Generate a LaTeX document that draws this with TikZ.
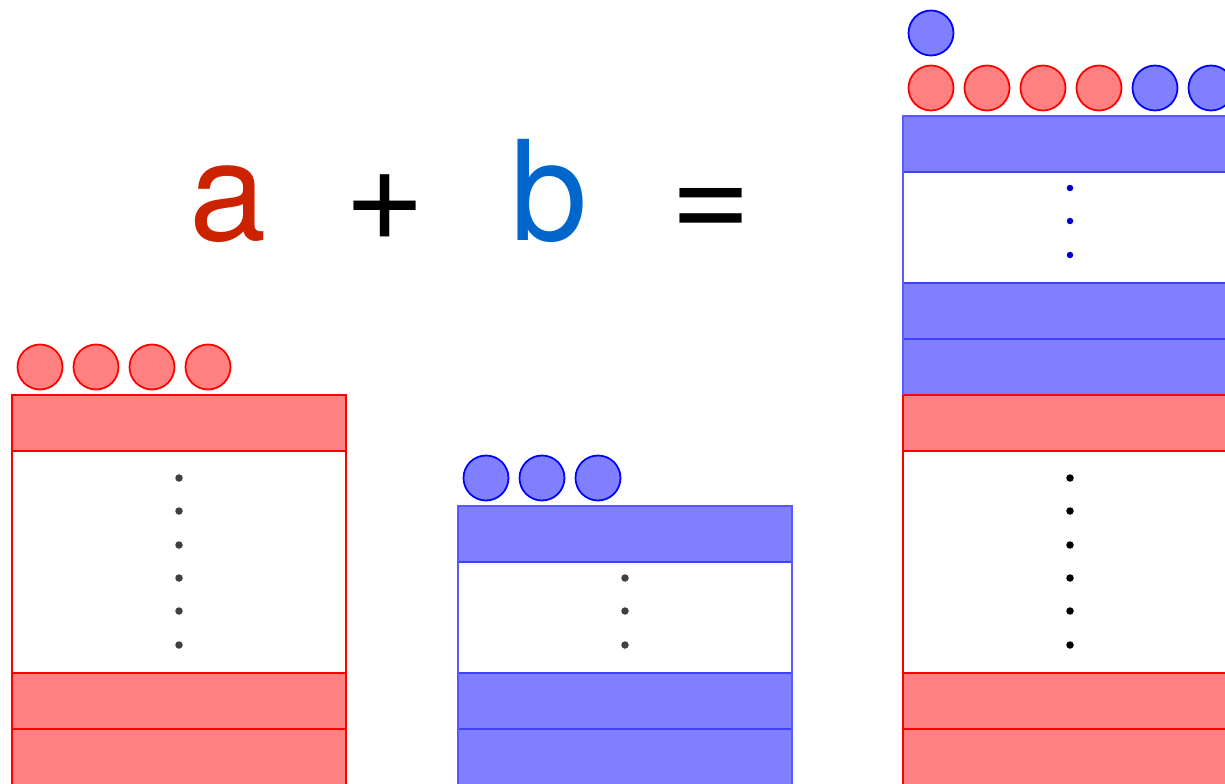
\documentclass[tikz,border=0pt]{standalone}
\usepackage{fontspec}
\setmainfont{TeX Gyre Heros}
\usepackage{tikz}
\definecolor{termred}{HTML}{CC2200}
\definecolor{termblue}{HTML}{0066CC}
\tikzset{
  redband/.style = {fill=red!50, draw=red, line width=0.6pt},
  blueband/.style = {fill=blue!50, draw=blue!75, line width=0.6pt},
  redframe/.style = {draw=red, line width=1.1pt},
  blueframe/.style = {draw=blue!65, line width=1.1pt},
  redbead/.style = {fill=red!50, draw=red, line width=1pt},
  bluebead/.style = {fill=blue!50, draw=blue, line width=1pt},
  term/.style = {anchor=base, font=\fontsize{79}{90}\selectfont},
}
\begin{document}
\begin{tikzpicture}[x=0.02cm,y=-0.02cm]
\useasboundingbox (0,0) rectangle (1225,784);
\clip (0,0) rectangle (1225,784);
% the sum
\node[term, text=termred] (a) at (228,240) {a};
\node[term] (plus) at (385,240) {+};
\node[term, text=termblue] (b) at (549,240) {b};
\node[term] (eq) at (711,240) {=};
% stack a
\foreach \t/\u in {395/451,673/729,729/790}
  \draw[redband] (12,\t) rectangle (346,\u);
\draw[redframe] (12,395) rectangle (346,790);
\foreach \y in {478,511,545,578,611,645}
  \fill[black!75] (179,\y) circle[radius=0.075cm];
\foreach \x in {40,96,152,208}
  \draw[redbead] (\x,367) circle[radius=0.45cm];
% stack b
\foreach \t/\u in {506/562,673/729,729/790}
  \draw[blueband] (458,\t) rectangle (792,\u);
\draw[blueframe] (458,506) rectangle (792,790);
\foreach \y in {578,611,645}
  \fill[black!75] (625,\y) circle[radius=0.075cm];
\foreach \x in {486,542,598}
  \draw[bluebead] (\x,478) circle[radius=0.45cm];
% stack a+b
\foreach \t/\u in {116/172,283/339,339/395}
  \draw[blueband] (903,\t) rectangle (1240,\u);
\foreach \t/\u in {395/451,673/729,729/790}
  \draw[redband] (903,\t) rectangle (1240,\u);
\draw[blueframe] (903,395) -- (903,116) -- (1240,116);
\draw[redframe] (903,395) -- (903,790);
\foreach \y in {188,221,255}
  \fill[blue!80!black] (1070,\y) circle[radius=0.065cm];
\foreach \y in {478,511,545,578,611,645}
  \fill[black] (1070,\y) circle[radius=0.075cm];
\foreach \x in {931,987,1043,1099}
  \draw[redbead] (\x,88) circle[radius=0.45cm];
\foreach \x in {1155,1211}
  \draw[bluebead] (\x,88) circle[radius=0.45cm];
\draw[bluebead] (931,33) circle[radius=0.45cm];
\end{tikzpicture}
\end{document}
